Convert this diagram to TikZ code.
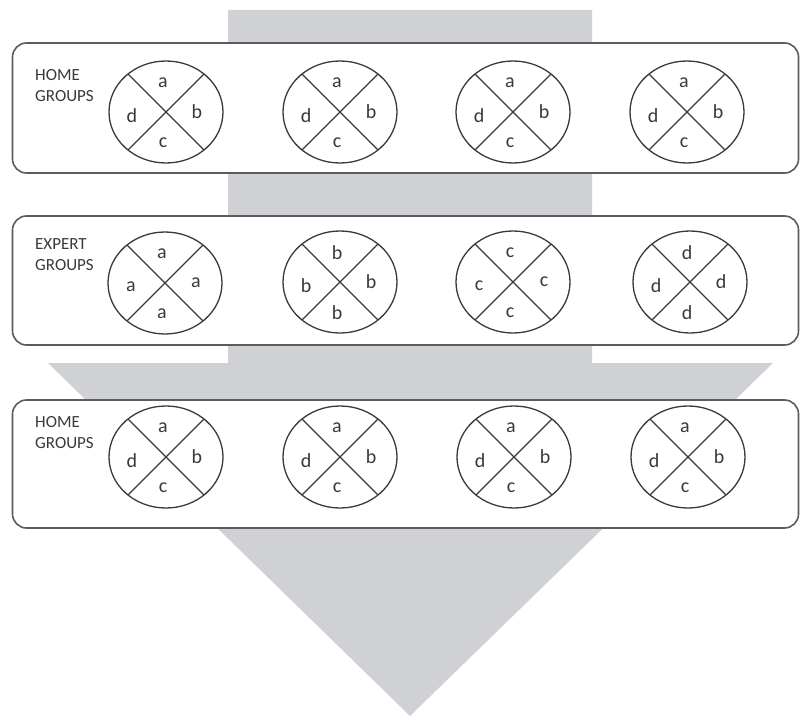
\documentclass[tikz,border=0pt]{standalone}
\usepackage{fontspec}
\setmainfont{Carlito}
\usetikzlibrary{shapes.geometric}
\definecolor{arrowgrey}{HTML}{D0D1D5}
\definecolor{boxline}{HTML}{5C5C5C}
\definecolor{crossline}{HTML}{3A3A3A}
\definecolor{txt}{HTML}{3A3A3A}
\newcommand\grpcircle[7]{%
  \node[grpell] (#1) at (#2,#3) {};
  \draw[crossstyle] (#1.135) -- (#1.-45);
  \draw[crossstyle] (#1.45) -- (#1.-135);
  \node[lbl] (#1-t) at ([shift={(-3,-29)}]#1.center) {#4};
  \node[lbl] (#1-r) at ([shift={(31,0)}]#1.center) {#5};
  \node[lbl] (#1-b) at ([shift={(-3,31)}]#1.center) {#6};
  \node[lbl] (#1-l) at ([shift={(-34,4)}]#1.center) {#7};
}
\begin{document}
\begin{tikzpicture}[x=1pt,y=-1pt,
  groupbox/.style={draw=boxline, line width=1.6pt, fill=white, rounded corners=14pt,
    minimum width=786pt, inner sep=0pt, outer sep=0pt},
  grpell/.style={ellipse, draw=crossline, line width=1.3pt, minimum width=114pt,
    minimum height=102pt, inner sep=0pt, outer sep=0pt},
  crossstyle/.style={draw=crossline, line width=1.3pt},
  lbl/.style={inner sep=0pt, text=txt, font=\fontsize{20}{24}\selectfont},
  grouplabel/.style={inner sep=0pt, text=txt, align=left, anchor=north west,
    font=\fontsize{17}{21}\selectfont}
]
\useasboundingbox (0,0) rectangle (800,717);
% big grey arrow
\fill[arrowgrey] (228,10) -- (592,10) -- (592,363) -- (773,363) -- (410,716)
  -- (48,363) -- (228,363) -- cycle;
% boxes
\node[groupbox, minimum height=130pt] (box1) at (405.5,108) {};
\node[groupbox, minimum height=129pt] (box2) at (405.5,280.5) {};
\node[groupbox, minimum height=128pt] (box3) at (405.5,464) {};
% labels
\node[grouplabel] (lab1) at (35,69) {HOME\\GROUPS};
\node[grouplabel] (lab2) at (35,238) {EXPERT\\GROUPS};
\node[grouplabel] (lab3) at (35,416) {HOME\\GROUPS};
% row 1
\grpcircle{h1}{166}{112}{a}{b}{c}{d}
\grpcircle{h2}{340}{112}{a}{b}{c}{d}
\grpcircle{h3}{513}{112}{a}{b}{c}{d}
\grpcircle{h4}{687}{112}{a}{b}{c}{d}
% row 2
\grpcircle{e1}{165}{283}{a}{a}{a}{a}
\grpcircle{e2}{340}{282}{b}{b}{b}{b}
\grpcircle{e3}{513}{282}{c}{c}{c}{c}
\grpcircle{e4}{690}{282}{d}{d}{d}{d}
% row 3
\grpcircle{f1}{166}{457}{a}{b}{c}{d}
\grpcircle{f2}{340}{457}{a}{b}{c}{d}
\grpcircle{f3}{514}{457}{a}{b}{c}{d}
\grpcircle{f4}{688}{457}{a}{b}{c}{d}
\end{tikzpicture}
\end{document}
